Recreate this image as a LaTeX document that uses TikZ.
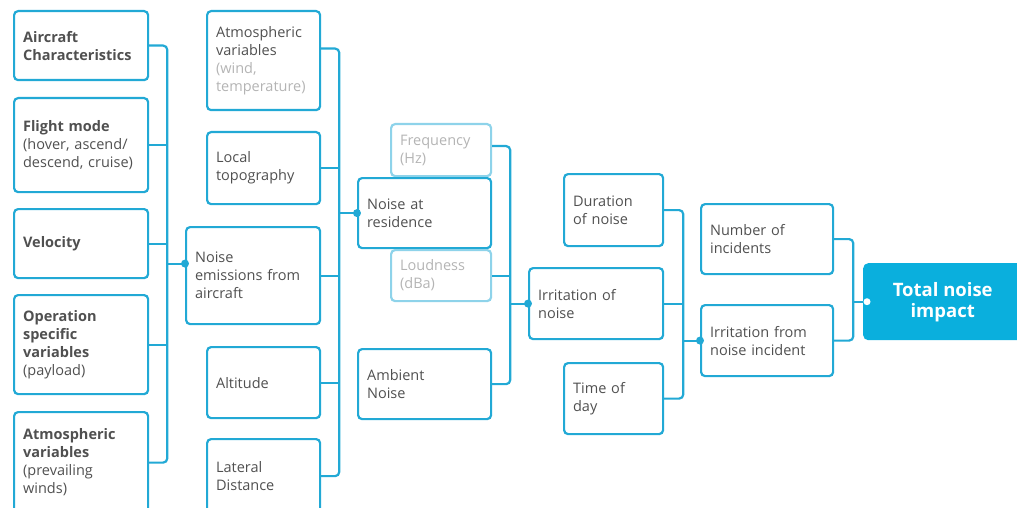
\documentclass[tikz,border=0pt]{standalone}
\usepackage{fontspec}
\setmainfont{Open Sans}
\definecolor{noiseblue}{HTML}{22A9D5}
\definecolor{totalblue}{HTML}{0AAFDD}
\definecolor{textgray}{HTML}{505050}
\definecolor{paleblue}{HTML}{8ED3EA}
\definecolor{palegray}{HTML}{B4B4B4}
\newcommand{\hint}[1]{\textcolor{palegray}{#1}}

\begin{document}
\begin{tikzpicture}[x=1pt,y=-1pt]
  \tikzset{
    box/.style={draw=noiseblue, line width=2.2pt, rounded corners=4pt,
      align=left, inner xsep=9pt, inner ysep=0pt, anchor=north west,
      text=textgray, font=\fontsize{14.5}{18}\selectfont},
    faint/.style={box, draw=paleblue, text=palegray},
    total/.style={fill=totalblue, rounded corners=5pt, align=center,
      anchor=north west, inner sep=0pt, text=white,
      font=\bfseries\fontsize{18.5}{21}\selectfont},
    link/.style={draw=noiseblue, line width=2.2pt, rounded corners=4pt},
    joint/.style={circle, fill=noiseblue, inner sep=0pt, minimum size=8pt}
  }
  \useasboundingbox (0,0) rectangle (1017,508);

  % first column
  \node[box, text width=116pt, minimum height=69pt] (aircraft) at (13,10)
    {\textbf{Aircraft}\\\textbf{Characteristics}};
  \node[box, text width=116pt, minimum height=94pt] (flight) at (13,97)
    {\textbf{Flight mode}\\(hover, ascend/\\descend, cruise)};
  \node[box, text width=116pt, minimum height=69pt] (velocity) at (13,208)
    {\textbf{Velocity}};
  \node[box, text width=116pt, minimum height=99pt] (operation) at (13,294)
    {\textbf{Operation}\\\textbf{specific}\\\textbf{variables}\\(payload)};
  \node[box, text width=116pt, minimum height=101pt] (prevailing) at (13,411)
    {\textbf{Atmospheric}\\\textbf{variables}\\(prevailing\\winds)};

  % second column
  \node[box, text width=95pt, minimum height=99pt] (weather) at (206,10)
    {Atmospheric\\variables\\\hint{(wind,}\\\hint{temperature)}};
  \node[box, text width=95pt, minimum height=72pt] (topography) at (206,131)
    {Local\\topography};
  \node[box, text width=116pt, minimum height=97pt] (emission) at (185,226)
    {Noise\\emissions from\\aircraft};
  \node[box, text width=95pt, minimum height=71pt] (altitude) at (206,346)
    {Altitude};
  \node[box, text width=95pt, minimum height=74pt] (lateral) at (206,438)
    {Lateral\\Distance};

  % third column
  \node[faint, text width=82pt, minimum height=52pt] (frequency) at (390,123)
    {Frequency\\(Hz)};
  \node[box, text width=115pt, minimum height=70pt] (residence) at (357,177)
    {Noise at\\residence};
  \node[faint, text width=82pt, minimum height=51pt] (loudness) at (390,249)
    {Loudness\\(dBa)};
  \node[box, text width=115pt, minimum height=70pt] (ambient) at (357,348)
    {Ambient\\Noise};

  % fourth column
  \node[box, text width=81pt, minimum height=72pt] (duration) at (563,173)
    {Duration\\of noise};
  \node[box, text width=116pt, minimum height=71pt] (irritation) at (528,267)
    {Irritation of\\noise};
  \node[box, text width=81pt, minimum height=71pt] (daytime) at (563,362)
    {Time of\\day};

  % fifth column
  \node[box, text width=114pt, minimum height=70pt] (incidents) at (700,203)
    {Number of\\incidents};
  \node[box, text width=114pt, minimum height=71pt] (incident) at (700,304)
    {Irritation from\\noise incident};

  \node[total, minimum width=159pt, minimum height=77pt] (impact) at (863,263)
    {Total noise\\impact};

  % buses
  \coordinate (bus1) at ([xshift=18pt]aircraft.east);
  \draw[link] (aircraft.east) -- (bus1) |- (prevailing.east);
  \foreach \n in {flight,velocity,operation}
    \draw[link] (\n.east) -- (\n.east -| bus1);
  \coordinate (emissionin) at ([yshift=12pt]emission.west);
  \draw[link] (emissionin -| bus1) -- (emissionin) node[joint] {};

  \coordinate (weatherout) at ([yshift=12pt]weather.east);
  \coordinate (bus2) at ([xshift=18pt]weatherout);
  \draw[link] (weatherout) -- (bus2) |- (lateral.east);
  \foreach \n in {topography,emission,altitude}
    \draw[link] (\n.east) -- (\n.east -| bus2);
  \draw[link] (residence.west -| bus2) -- (residence.west) node[joint] {};

  \coordinate (frequencyout) at ([yshift=4pt]frequency.east);
  \coordinate (bus3) at ([xshift=18pt]frequencyout);
  \draw[link] (frequencyout) -- (bus3) |- (ambient.east);
  \draw[link] (loudness.east) -- (loudness.east -| bus3);
  \draw[link] (irritation.west -| bus3) -- (irritation.west) node[joint] {};

  \coordinate (bus4) at ([xshift=19pt]duration.east);
  \draw[link] (duration.east) -- (bus4) |- (daytime.east);
  \draw[link] (irritation.east) -- (irritation.east -| bus4);
  \draw[link] (incident.west -| bus4) -- (incident.west) node[joint] {};

  \coordinate (bus5) at ([xshift=19pt]incidents.east);
  \draw[link] (incidents.east) -- (bus5) |- (incident.east);
  \draw[link] (impact.west -| bus5) -- (impact.west)
    node[joint, fill=white, minimum size=7pt, xshift=4pt] {};
\end{tikzpicture}
\end{document}
